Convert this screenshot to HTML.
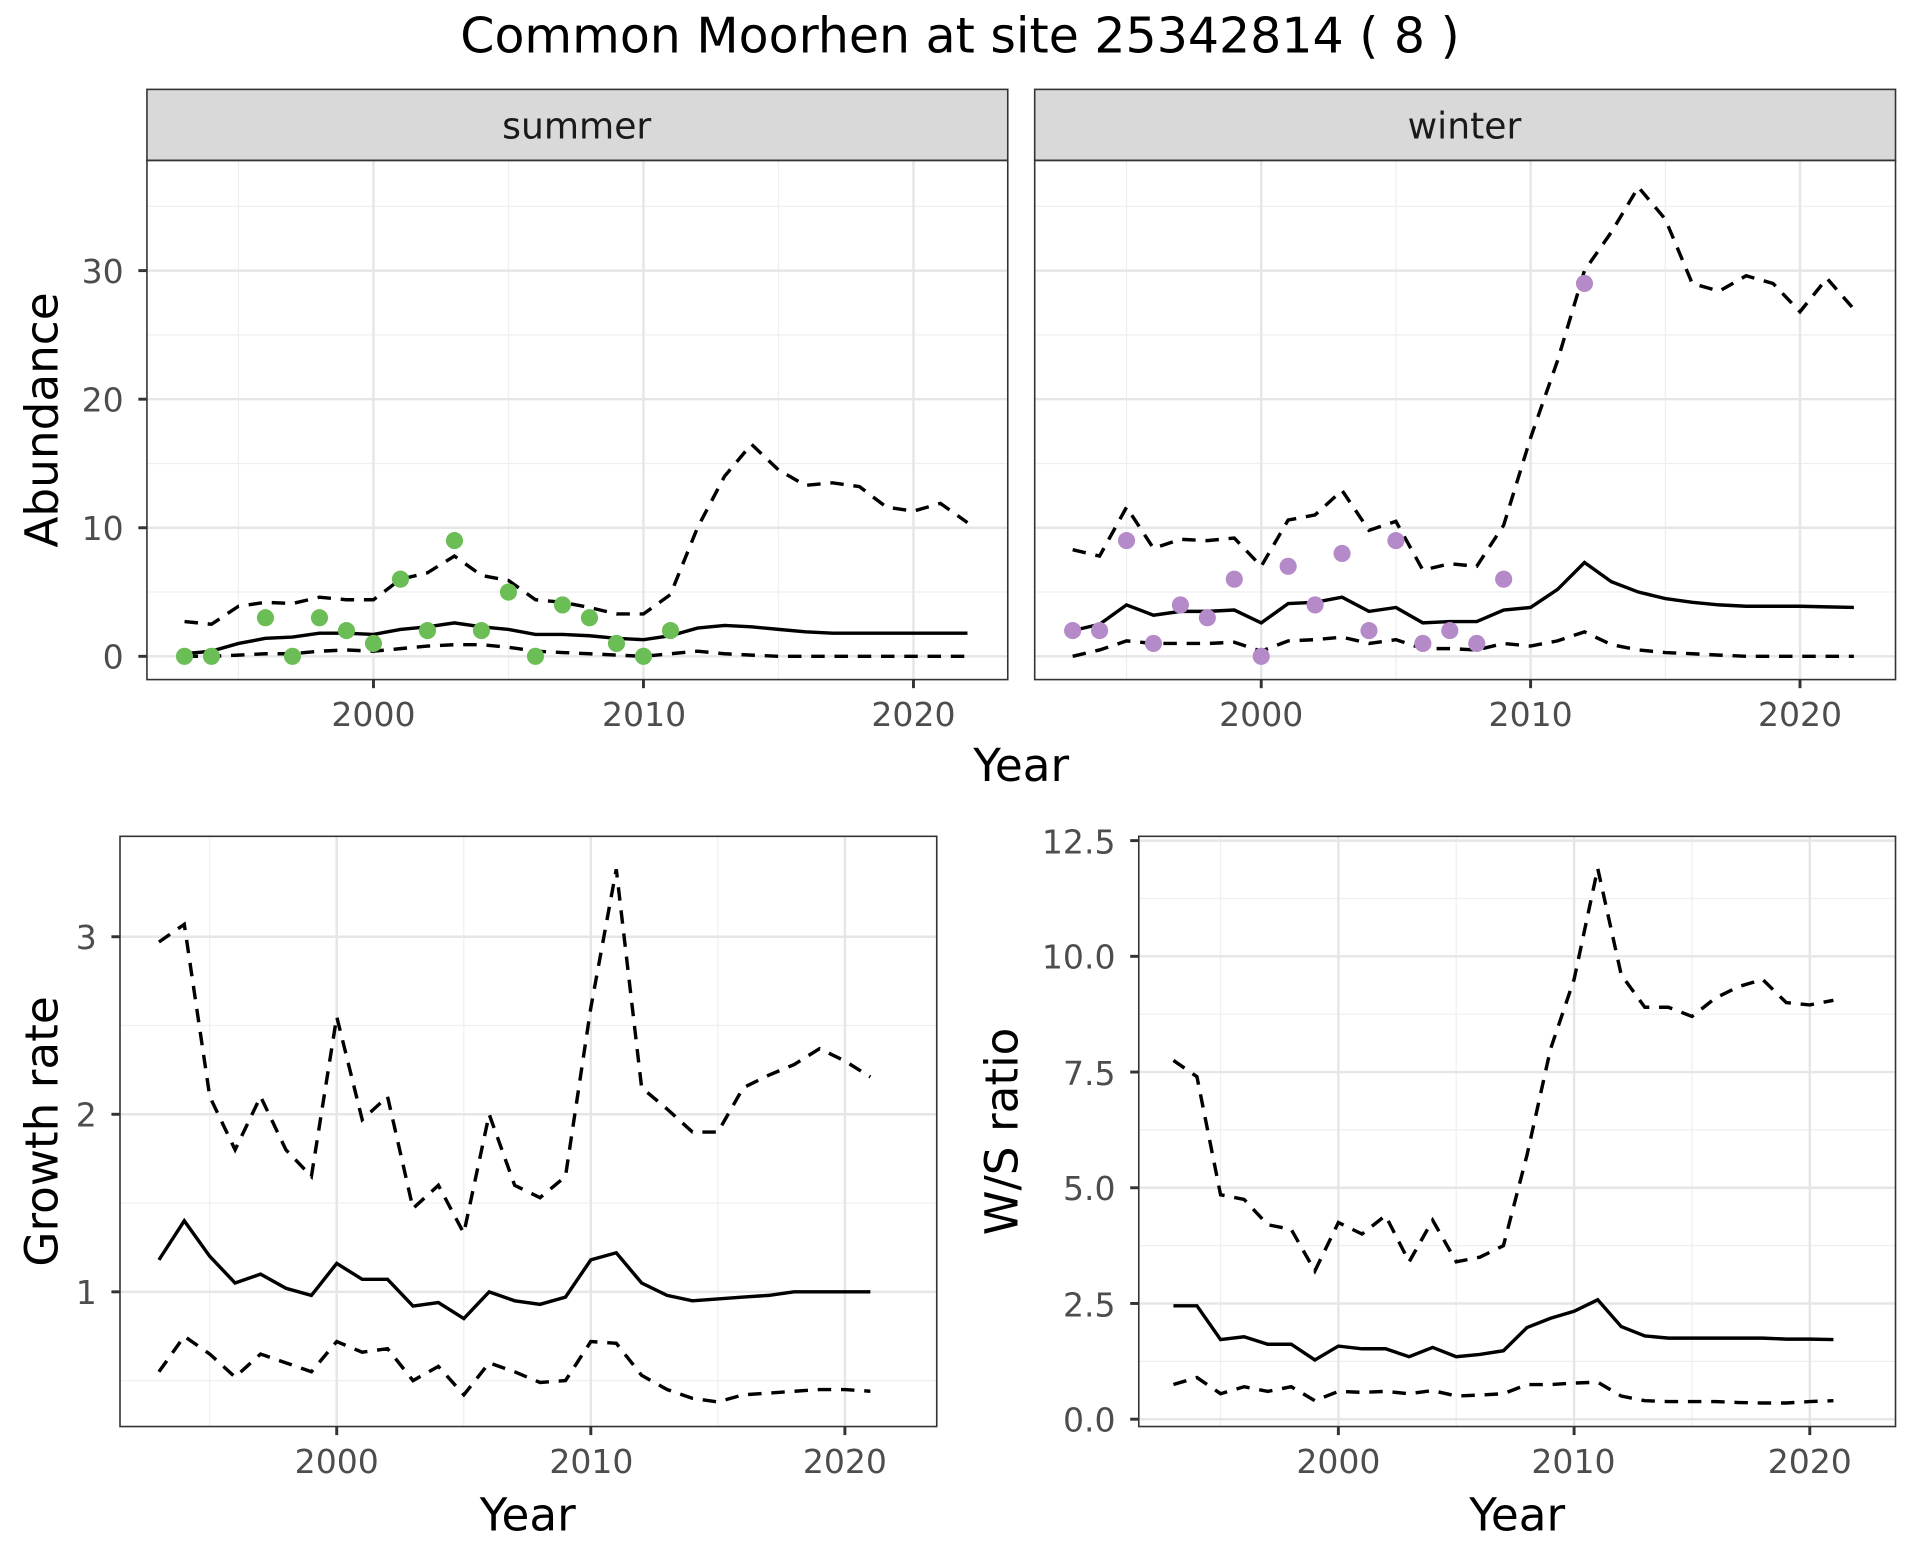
<!DOCTYPE html>
<html><head><meta charset="utf-8"><style>
html,body{margin:0;padding:0;background:#fff;}
svg{display:block;font-family:"DejaVu Sans","Liberation Sans",sans-serif;}
.tk{font-size:27px;fill:#4d4d4d;}
.at{font-size:37px;fill:#000;}
</style></head><body>
<svg id="s" width="1920" height="1560" viewBox="0 0 1568 1274" xmlns="http://www.w3.org/2000/svg">
<rect width="1568" height="1274" fill="#fff"/>
<g id="grid"></g>
<g id="data"></g>
<rect x="120" y="73" width="703" height="58" fill="#d9d9d9" stroke="#333" stroke-width="1.3"/>
<rect x="845" y="73" width="703" height="58" fill="#d9d9d9" stroke="#333" stroke-width="1.3"/>
<rect x="120" y="131" width="703" height="424" fill="none" stroke="#333" stroke-width="1.3"/>
<rect x="845" y="131" width="703" height="424" fill="none" stroke="#333" stroke-width="1.3"/>
<rect x="98" y="683" width="667" height="482" fill="none" stroke="#333" stroke-width="1.3"/>
<rect x="930" y="683" width="618" height="482" fill="none" stroke="#333" stroke-width="1.3"/>
<text x="784" y="43" text-anchor="middle" font-size="40">Common Moorhen at site 25342814 ( 8 )</text>
<text x="471" y="113" text-anchor="middle" font-size="29.5" fill="#1a1a1a">summer</text>
<text x="1196" y="113" text-anchor="middle" font-size="29.5" fill="#1a1a1a">winter</text>
<g class="tk" text-anchor="end">
<text x="101" y="546">0</text><text x="101" y="441">10</text><text x="101" y="336">20</text><text x="101" y="231">30</text>
<text x="79" y="1065">1</text><text x="79" y="920">2</text><text x="79" y="775">3</text>
<text x="911" y="1169">0.0</text><text x="911" y="1075">2.5</text><text x="911" y="980">5.0</text><text x="911" y="886">7.5</text><text x="911" y="791">10.0</text><text x="911" y="697">12.5</text>
</g>
<g class="tk" text-anchor="middle">
<text x="305" y="593">2000</text><text x="526" y="593">2010</text><text x="746" y="593">2020</text>
<text x="1030" y="593">2000</text><text x="1250" y="593">2010</text><text x="1470" y="593">2020</text>
<text x="275" y="1203">2000</text><text x="483" y="1203">2010</text><text x="690" y="1203">2020</text>
<text x="1093" y="1203">2000</text><text x="1285" y="1203">2010</text><text x="1478" y="1203">2020</text>
</g>
<g class="at" text-anchor="middle">
<text x="834" y="638">Year</text>
<text x="431" y="1250">Year</text>
<text x="1239" y="1250">Year</text>
<text transform="translate(47,343) rotate(-90)">Abundance</text>
<text transform="translate(47,924) rotate(-90)">Growth rate</text>
<text transform="translate(831,924) rotate(-90)">W/S ratio</text>
</g>
<g id="ticks" stroke="#333" stroke-width="2.4"></g>
</svg>
<script>
const NS="http://www.w3.org/2000/svg";
const G=document.getElementById('grid'),D=document.getElementById('data'),T=document.getElementById('ticks');
function el(p,t,a){const e=document.createElementNS(NS,t);for(const k in a)e.setAttribute(k,a[k]);p.appendChild(e);return e;}
const P={
 s:{x0:120,x1:823,y0:131,y1:555,fx:y=>305+(y-2000)*22.05,fy:v=>536-v*10.5},
 w:{x0:845,x1:1548,y0:131,y1:555,fx:y=>1030+(y-2000)*22.0,fy:v=>536-v*10.5},
 g:{x0:98,x1:765,y0:683,y1:1165,fx:y=>275+(y-2000)*20.75,fy:v=>1055-(v-1)*145},
 r:{x0:930,x1:1548,y0:683,y1:1165,fx:y=>1093+(y-2000)*19.25,fy:v=>1159-v*37.8}
};
function grid(p,xmaj,xmin,ymaj,ymin,tickside){
 xmin.forEach(x=>el(G,'line',{x1:p.fx(x),x2:p.fx(x),y1:p.y0,y2:p.y1,stroke:'#efefef','stroke-width':1}));
 ymin.forEach(v=>el(G,'line',{x1:p.x0,x2:p.x1,y1:p.fy(v),y2:p.fy(v),stroke:'#efefef','stroke-width':1}));
 xmaj.forEach(x=>{el(G,'line',{x1:p.fx(x),x2:p.fx(x),y1:p.y0,y2:p.y1,stroke:'#e6e6e6','stroke-width':2});
  el(T,'line',{x1:p.fx(x),x2:p.fx(x),y1:p.y1,y2:p.y1+7});});
 ymaj.forEach(v=>{el(G,'line',{x1:p.x0,x2:p.x1,y1:p.fy(v),y2:p.fy(v),stroke:'#e6e6e6','stroke-width':2});
  if(tickside)el(T,'line',{x1:p.x0-7,x2:p.x0,y1:p.fy(v),y2:p.fy(v)});});
}
grid(P.s,[2000,2010,2020],[1995,2005,2015],[0,10,20,30],[5,15,25,35],1);
grid(P.w,[2000,2010,2020],[1995,2005,2015],[0,10,20,30],[5,15,25,35],0);
grid(P.g,[2000,2010,2020],[1995,2005,2015],[1,2,3],[0.5,1.5,2.5],1);
grid(P.r,[2000,2010,2020],[1995,2005,2015],[0,2.5,5,7.5,10,12.5],[1.25,3.75,6.25,8.75,11.25],1);
function line(p,start,vals,dash){
 const pts=vals.map((v,i)=>p.fx(start+i).toFixed(1)+','+p.fy(v).toFixed(1)).join(' ');
 const a={points:pts,fill:'none',stroke:'#000','stroke-width':2.8};
 if(dash)a['stroke-dasharray']='11,8';
 el(D,'polyline',a);
}
function pts(p,arr,col){arr.forEach(([y,v])=>el(D,'circle',{cx:p.fx(y),cy:p.fy(v),r:7,fill:col}));}
line(P.s,1993,[0.2,0.4,1.0,1.4,1.5,1.8,1.8,1.7,2.1,2.3,2.6,2.3,2.1,1.7,1.7,1.6,1.4,1.3,1.6,2.2,2.4,2.3,2.1,1.9,1.8,1.8,1.8,1.8,1.8,1.8]);
line(P.s,1993,[2.7,2.5,3.9,4.2,4.1,4.6,4.4,4.4,6.0,6.5,7.8,6.3,5.9,4.4,4.2,3.8,3.3,3.3,4.8,10,14,16.5,14.5,13.3,13.5,13.2,11.6,11.3,11.9,10.4],1);
line(P.s,1993,[0,0,0.1,0.2,0.2,0.4,0.5,0.4,0.6,0.8,0.9,0.9,0.7,0.4,0.3,0.2,0.1,0,0.2,0.4,0.2,0.1,0,0,0,0,0,0,0,0],1);
pts(P.s,[[1993,0],[1994,0],[1996,3],[1997,0],[1998,3],[1999,2],[2000,1],[2001,6],[2002,2],[2003,9],[2004,2],[2005,5],[2006,0],[2007,4],[2008,3],[2009,1],[2010,0],[2011,2]],'#6bbd55');
line(P.w,1993,[2.0,2.5,4.0,3.2,3.5,3.5,3.6,2.6,4.1,4.2,4.6,3.5,3.8,2.6,2.7,2.7,3.6,3.8,5.2,7.3,5.8,5.0,4.5,4.2,4.0,3.9,3.9,3.9,3.85,3.8]);
line(P.w,1993,[8.3,7.8,11.6,8.4,9.1,9.0,9.2,7.0,10.6,11.0,12.9,9.8,10.5,6.7,7.2,7.0,10.2,17,23,30,33,36.5,34,29,28.4,29.6,29,26.8,29.4,27],1);
line(P.w,1993,[0,0.5,1.2,1.0,1.0,1.0,1.1,0.4,1.2,1.3,1.5,1.0,1.3,0.6,0.6,0.5,1.0,0.8,1.2,1.9,0.9,0.5,0.3,0.2,0.1,0,0,0,0,0],1);
pts(P.w,[[1993,2],[1994,2],[1995,9],[1996,1],[1997,4],[1998,3],[1999,6],[2000,0],[2001,7],[2002,4],[2003,8],[2004,2],[2005,9],[2006,1],[2007,2],[2008,1],[2009,6],[2012,29]],'#b48ac8');
line(P.g,1993,[1.18,1.40,1.20,1.05,1.10,1.02,0.98,1.16,1.07,1.07,0.92,0.94,0.85,1.00,0.95,0.93,0.97,1.18,1.22,1.05,0.98,0.95,0.96,0.97,0.98,1.0,1.0,1.0,1.0]);
line(P.g,1993,[2.97,3.07,2.1,1.8,2.1,1.8,1.65,2.55,1.97,2.1,1.47,1.6,1.33,2.0,1.6,1.53,1.65,2.6,3.38,2.15,2.03,1.9,1.9,2.15,2.22,2.28,2.37,2.3,2.21],1);
line(P.g,1993,[0.55,0.75,0.65,0.52,0.65,0.6,0.55,0.72,0.66,0.68,0.5,0.58,0.42,0.6,0.55,0.49,0.5,0.72,0.71,0.53,0.45,0.4,0.38,0.42,0.43,0.44,0.45,0.45,0.44],1);
line(P.r,1993,[2.45,2.45,1.72,1.78,1.62,1.62,1.28,1.58,1.52,1.52,1.35,1.55,1.35,1.4,1.48,1.98,2.18,2.33,2.58,2.0,1.8,1.75,1.75,1.75,1.75,1.75,1.73,1.73,1.72]);
line(P.r,1993,[7.75,7.4,4.85,4.75,4.2,4.1,3.2,4.25,4.0,4.4,3.4,4.3,3.4,3.5,3.75,5.7,8.0,9.5,11.9,9.6,8.9,8.9,8.7,9.1,9.35,9.5,9.0,8.95,9.05],1);
line(P.r,1993,[0.75,0.9,0.55,0.7,0.6,0.7,0.4,0.6,0.58,0.6,0.55,0.62,0.5,0.52,0.55,0.75,0.75,0.78,0.8,0.5,0.4,0.38,0.38,0.38,0.36,0.35,0.35,0.38,0.4],1);
</script>
</body></html>
